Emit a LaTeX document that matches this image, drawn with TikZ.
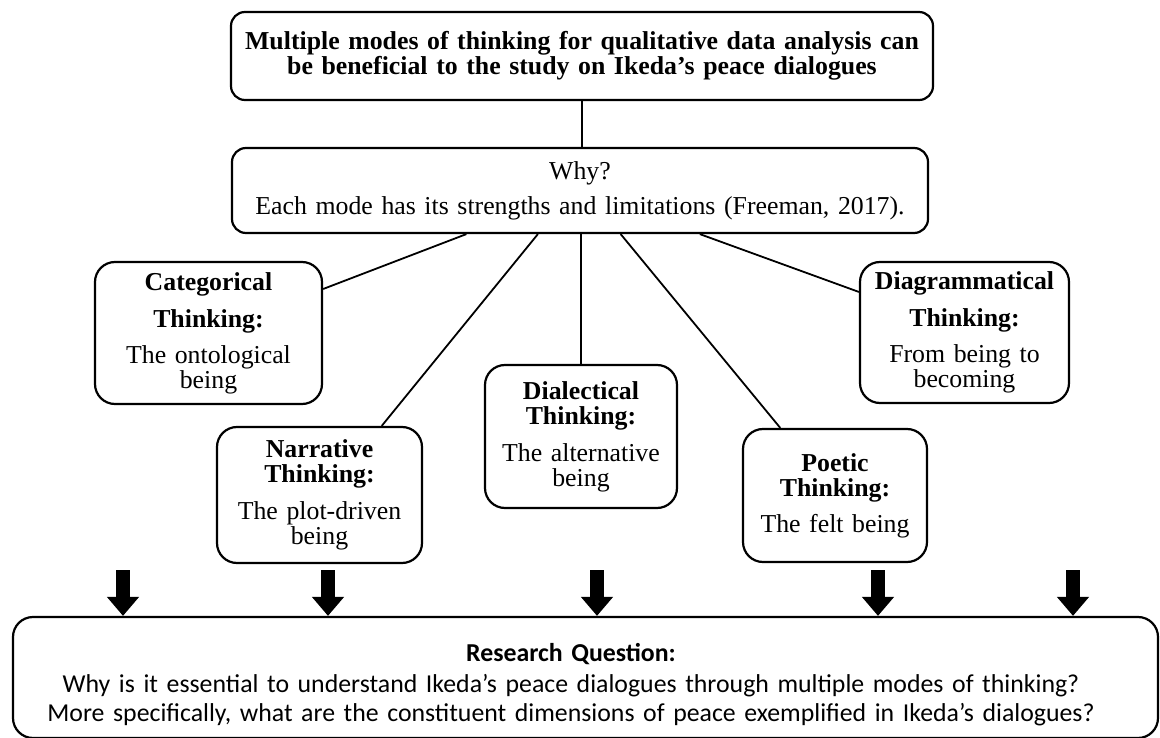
\documentclass[tikz,border=0pt]{standalone}
\usepackage{fontspec}
\setmainfont{Liberation Serif}
\newfontfamily\rqfont{Carlito}
\usetikzlibrary{arrows.meta,positioning}
\lineskiplimit=-100pt

\tikzset{
    headbox/.style={draw, line width=2.2pt, rounded corners=14pt, inner sep=0pt, align=center},
    modebox/.style={draw, line width=2.2pt, rounded corners=20pt, inner sep=0pt, align=center,
        font=\fontsize{25.8}{25}\selectfont},
    link/.style={line width=1.8pt},
    blockarrow/.style={line width=14pt, -{Triangle[length=19pt,width=31pt]}},
}

\begin{document}
\begin{tikzpicture}[x=1pt,y=-1pt]
        \useasboundingbox (0,0) rectangle (1160,738);

        % верхні блоки
        \node[headbox, minimum width=702pt, minimum height=88pt, text width=696pt,
            font=\fontsize{25.8}{22.5}\selectfont\bfseries] (top) at (582,56)
            {Multiple modes of thinking for qualitative data analysis can\\be beneficial to the study on Ikeda’s peace dialogues};
        \node[headbox, minimum width=696pt, minimum height=85pt, text width=680pt,
            font=\fontsize{25.8}{25}\selectfont] (why) at (580,190.5)
            {Why?\\[10pt]Each mode has its strengths and limitations (Freeman, 2017).};

        % п'ять способів мислення
        \node[modebox, minimum width=227pt, minimum height=142pt, text width=215pt] (cat) at (208.5,333)
            {\textbf{Categorical}\\[12pt]\textbf{Thinking:}\\[11pt]The ontological\\being};
        \node[modebox, minimum width=205pt, minimum height=136pt, text width=195pt] (nar) at (319.5,495)
            {\textbf{Narrative}\\\textbf{Thinking:}\\[12pt]The plot-driven\\being};
        \node[modebox, minimum width=192pt, minimum height=143pt, text width=182pt] (dia) at (581,436.5)
            {\textbf{Dialectical}\\\textbf{Thinking:}\\[12pt]The alternative\\being};
        \node[modebox, minimum width=184pt, minimum height=133pt, text width=174pt] (poe) at (835,495.5)
            {\textbf{Poetic}\\\textbf{Thinking:}\\[11pt]The felt being};
        \node[modebox, minimum width=209pt, minimum height=141pt, text width=200pt] (dgm) at (964.5,332.5)
            {\textbf{Diagrammatical}\\[12pt]\textbf{Thinking:}\\[11pt]From being to\\becoming};

        % нижній блок
        \node[draw, line width=2.2pt, rounded corners=20pt, minimum width=1145pt, minimum height=121pt] (rq) at (585.5,677.5) {};
        \node[align=center, text width=1120pt, inner sep=0pt,
            font=\rqfont\fontsize{25.8}{29}\selectfont] (rqtext) at (571,684.5)
            {\textbf{Research Question:}\\[2pt]Why is it essential to understand Ikeda’s peace dialogues through multiple modes of thinking?\\More specifically, what are the constituent dimensions of peace exemplified in Ikeda’s dialogues?};

        \draw[link] (top.south) -- (top.south |- why.north);
        \draw[link] (cat.21.6) -- (why.201.7);
        \draw[link] (nar.48.3) -- (why.226);
        \draw[link] (dia.north) -- (dia.north |- why.south);
        \draw[link] (poe.129.6) -- (why.313.3);
        \draw[link] (dgm.159.3) -- (why.340.5);

        % стрілки вниз
        \coordinate (a1) at (123,570);
        \coordinate (a2) at (328,570);
        \coordinate (a3) at (597,570);
        \coordinate (a4) at (878,570);
        \coordinate (a5) at (1073,570);
        \foreach \a in {a1,a2,a3,a4,a5}
            \draw[blockarrow] (\a) -- (\a |- rq.north);
    \end{tikzpicture}
\end{document}
